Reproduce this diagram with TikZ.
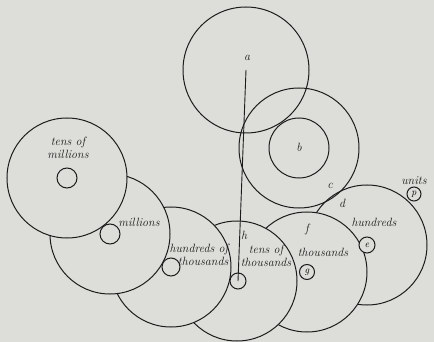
\documentclass[tikz,border=0pt]{standalone}
\usepackage{tikz}
\usetikzlibrary{positioning}

\definecolor{paper}{RGB}{221,221,217}
\definecolor{ink}{RGB}{28,28,28}

\begin{document}
\begin{tikzpicture}[
    x=1pt, y=-1pt,
    wheel/.style={circle, draw=ink, fill=paper, line width=1pt, minimum size=120pt, inner sep=0pt},
    pinion/.style={circle, draw=ink, fill=paper, line width=1pt, minimum size=16pt, inner sep=0pt, font=\itshape\fontsize{10}{10}\selectfont},
    lbl/.style={font=\itshape\fontsize{12}{12.5}\selectfont, inner sep=0pt, align=center, text=ink},
    shaft/.style={draw=ink, line width=0.9pt}
]
    % Paper
    \fill[paper] (0,0) rectangle (434,342);
    \useasboundingbox (0,0) rectangle (434,342);

    % Wheels of the train (later ones hide earlier ones)
    \node[wheel] (hundreds) at (367,245) {};
    \node[wheel] (thousands) at (307,272) {};
    \node[wheel] (tensth) at (237,281) {};
    \node[wheel] (hundth) at (171,267) {};
    \node[wheel] (millions) at (110,234) {};
    \node[wheel] (tensmil) at (67,178) {};

    % Upper wheels
    \node[wheel, fill=none, minimum size=126pt] (wa) at (246,70) {};
    \node[wheel, fill=none] (wb) at (299,148) {};
    \node[wheel, fill=none, minimum size=60pt] (wbin) at (wb) {};

    % Pinions
    \node[pinion, minimum size=20pt] (ptm) at (tensmil) {};
    \node[pinion, minimum size=20pt] (pm) at (millions) {};
    \node[pinion, minimum size=18pt] (pht) at (hundth) {};
    \node[pinion] (i) at (238,281) {};
    \node[pinion, minimum size=15pt] (g) at (thousands) {g};
    \node[pinion] (e) at (hundreds) {e};
    \node[pinion, minimum size=14pt] (p) at (414,194) {p};

    % Shaft
    \draw[shaft] (wa.center) -- (i.center);

    % Labels
    \node[lbl] (la) at (247,58) {a};
    \node[lbl] (lb) at (299,147) {b};
    \node[lbl] (lc) at (330,186) {c};
    \node[lbl] (ld) at (342,203) {d};
    \node[lbl] (ltm) at (68,148) {tens of\\millions};
    \node[lbl] (lm) at (139,222) {millions};
    \node[lbl, align=right] (lht) at (199,255) {hundreds of\\[1pt]thousands};
    \node[lbl] (lh) at (244,235) {h};
    \node[lbl] (ltt) at (266,256) {tens of\\thousands};
    \node[lbl] (lf) at (307,230) {f};
    \node[lbl] (lt) at (323,252) {thousands};
    \node[lbl] (lhu) at (374,222) {hundreds};
    \node[lbl, above=2pt of p] (lu) {units};
\end{tikzpicture}
\end{document}
